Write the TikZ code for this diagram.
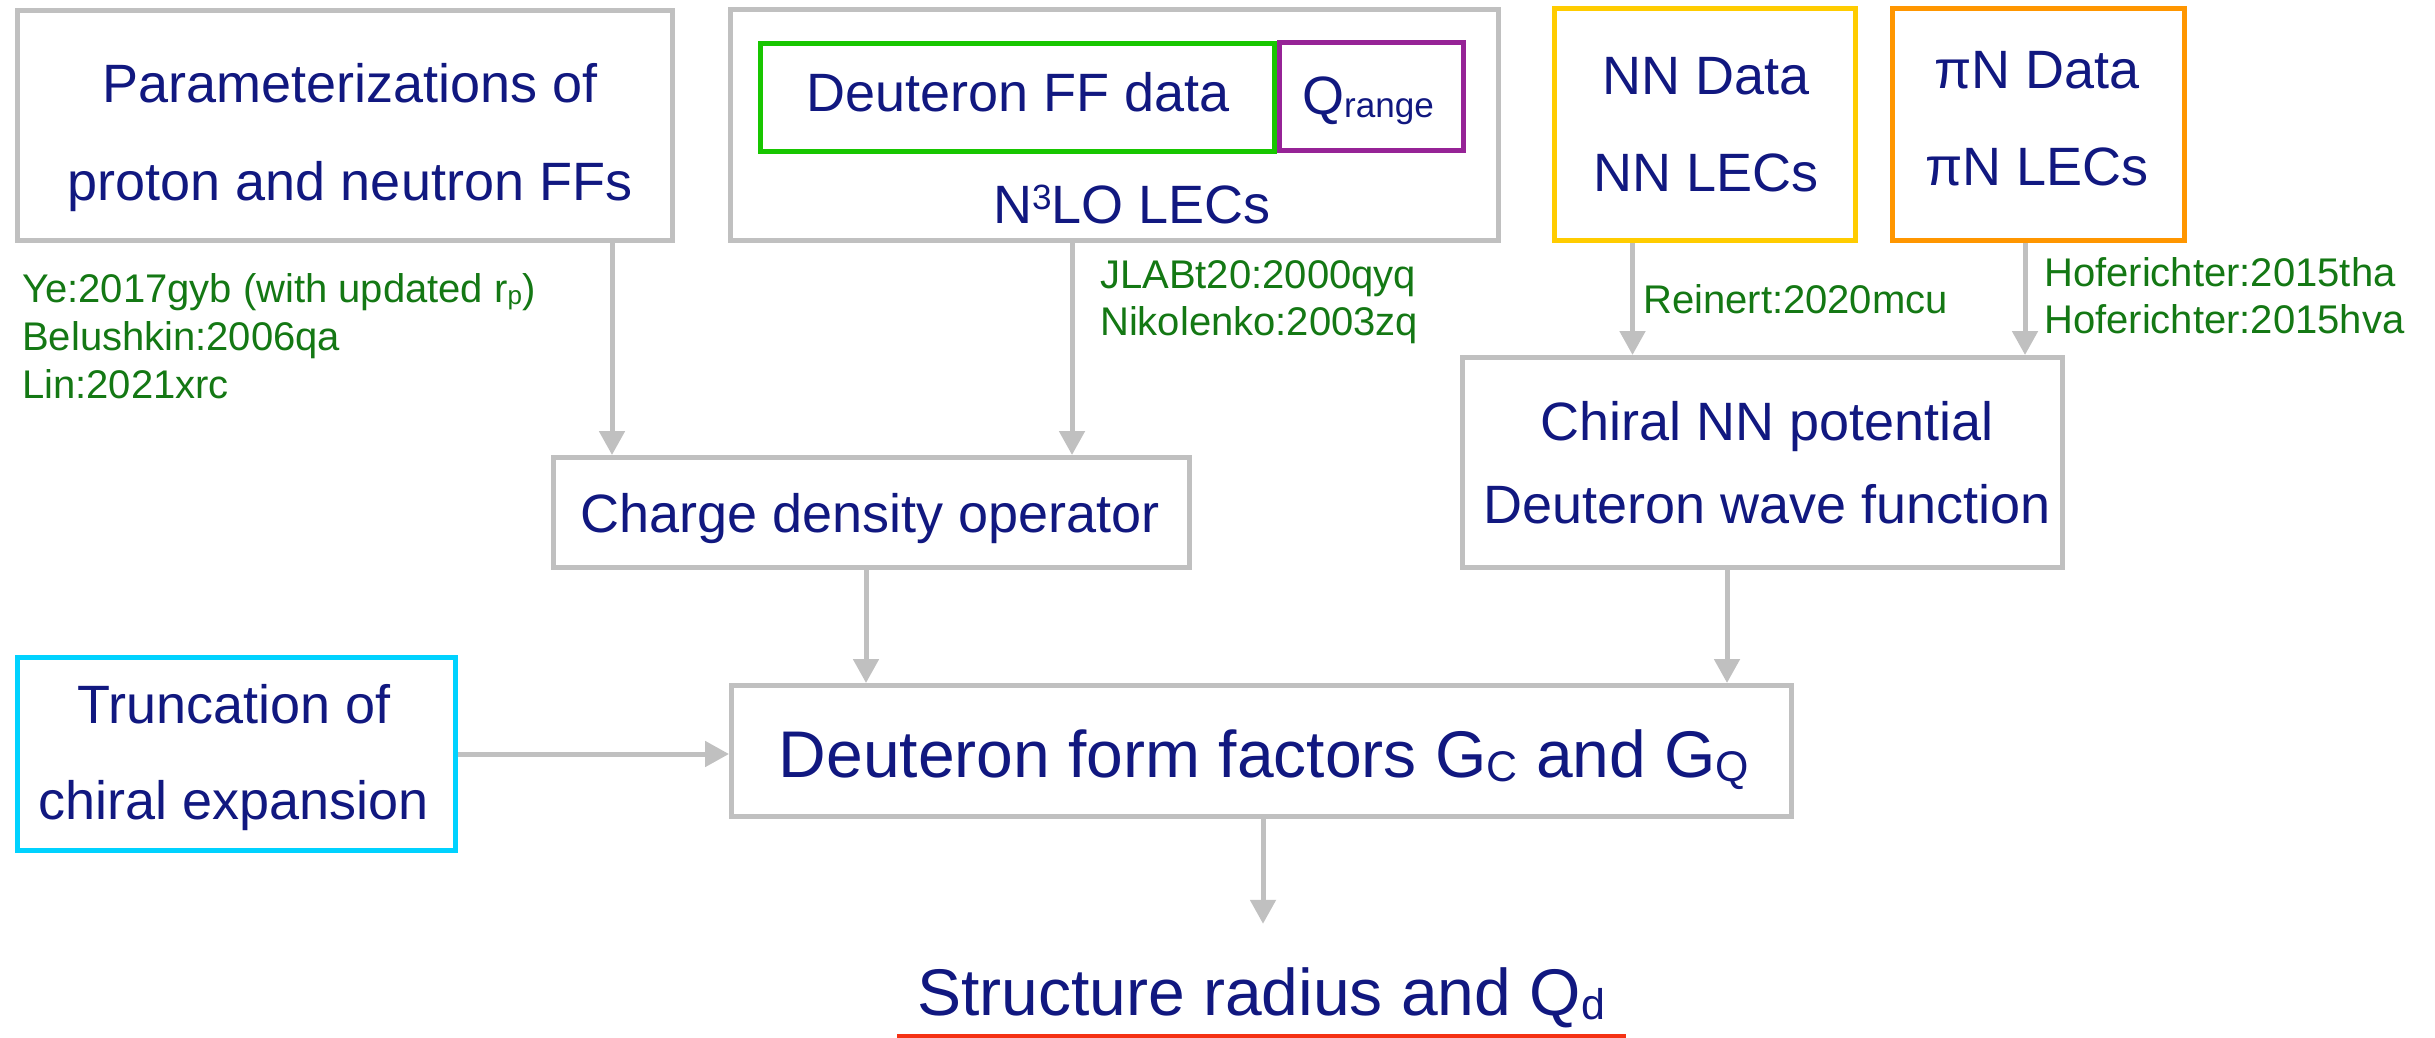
\documentclass[tikz,border=0pt]{standalone}
\usepackage{fontspec}
\setmainfont{Liberation Sans}
\usepackage{graphicx}
\usetikzlibrary{arrows.meta}
\definecolor{gline}{RGB}{192,192,192}
\definecolor{navy}{RGB}{17,24,128}
\definecolor{refgreen}{RGB}{20,120,20}
\definecolor{boxgreen}{RGB}{24,198,0}
\definecolor{boxpurple}{RGB}{150,35,150}
\definecolor{boxyellow}{RGB}{255,204,0}
\definecolor{boxorange}{RGB}{255,150,0}
\definecolor{boxcyan}{RGB}{0,210,255}
\definecolor{ulred}{RGB}{245,50,20}
\newcommand\lsub[1]{\raisebox{-0.07em}{\scalebox{0.65}{#1}}}
\newcommand\lsup[1]{\raisebox{0.25em}{\scalebox{0.65}{#1}}}
\begin{document}
\begin{tikzpicture}[x=1pt,y=-1pt,
  framebox/.style={draw=#1, line width=5pt, rectangle, inner sep=0pt},
  txt/.style={anchor=base, text=navy, inner sep=0pt, font=\fontsize{54}{60}\selectfont},
  bigtxt/.style={anchor=base, text=navy, inner sep=0pt, font=\fontsize{66}{72}\selectfont},
  ref/.style={anchor=base west, text=refgreen, inner sep=0pt, font=\fontsize{40}{44}\selectfont},
  arr/.style={draw=gline, line width=5pt, -{Triangle[length=24pt,width=25pt]}}
]
\useasboundingbox (0,0) rectangle (2435,1038);
\fill[white] (0,0) rectangle (2435,1038);

% boxes
\node[framebox=gline, minimum width=655pt, minimum height=229pt] (param) at (344.5,125.5) {};
\node[framebox=gline, minimum width=767.5pt, minimum height=230.5pt] (deut) at (1114.25,124.75) {};
\node[framebox=boxgreen, minimum width=514.5pt, minimum height=108pt] (ffdata) at (1017.25,97.5) {};
\node[framebox=boxpurple, minimum width=184pt, minimum height=108pt] (qrange) at (1371,96.5) {};
\node[framebox=boxyellow, minimum width=301pt, minimum height=232pt] (nn) at (1705,124.5) {};
\node[framebox=boxorange, minimum width=292pt, minimum height=232pt] (pin) at (2038.5,124.5) {};
\node[framebox=gline, minimum width=636pt, minimum height=109.5pt] (charge) at (871.5,512.25) {};
\node[framebox=gline, minimum width=600.5pt, minimum height=210pt] (chiral) at (1762.25,462.5) {};
\node[framebox=boxcyan, minimum width=438pt, minimum height=193pt] (trunc) at (236.5,754) {};
\node[framebox=gline, minimum width=1060pt, minimum height=130.5pt] (dff) at (1261.5,750.75) {};

% texts in boxes
\node[txt] (paramA) at (350,103) {Parameterizations of};
\node[txt] (paramB) at (350,200) {proton and neutron FFs};
\node[txt] (ffdataT) at (1018,112) {Deuteron FF data};
\node[txt] (qrangeT) at (1368,114) {Q\lsub{range}};
\node[txt] (lecT) at (1132,223) {N\lsup{3}LO LECs};
\node[txt] (nnA) at (1706,95) {NN Data};
\node[txt] (nnB) at (1706,191) {NN LECs};
\node[txt] (pinA) at (2037,89) {πN Data};
\node[txt] (pinB) at (2037,185) {πN LECs};
\node[txt] (chargeT) at (870,532) {Charge density operator};
\node[txt] (chiralA) at (1767,440) {Chiral NN potential};
\node[txt] (chiralB) at (1767,523) {Deuteron wave function};
\node[txt] (truncA) at (234,723) {Truncation of};
\node[txt] (truncB) at (234,819) {chiral expansion};
\node[bigtxt] (dffT) at (1264,777) {Deuteron form factors G\lsub{C} and G\lsub{Q}};
\node[bigtxt, text height=48pt, inner ysep=43pt] (struct) at (1261,1015) {Structure radius and Q\lsub{d}};

% references
\node[ref] (refA) at (22,302) {Ye:2017gyb (with updated r\lsub{p})};
\node[ref] (refB) at (22,350) {Belushkin:2006qa};
\node[ref] (refC) at (22,398) {Lin:2021xrc};
\node[ref] (refD) at (1100,288) {JLABt20:2000qyq};
\node[ref] (refE) at (1100,335) {Nikolenko:2003zq};
\node[ref] (refF) at (1643,313) {Reinert:2020mcu};
\node[ref] (refG) at (2044,286) {Hoferichter:2015tha};
\node[ref] (refH) at (2044,333) {Hoferichter:2015hva};

% connector columns
\coordinate (c1) at (612,0);
\coordinate (c2) at (1072,0);
\coordinate (c3) at (1632.5,0);
\coordinate (c4) at (2025,0);
\coordinate (c5) at (866,0);
\coordinate (c6) at (1727,0);
\coordinate (c7) at (1263,0);

\draw[arr] (c1 |- param.south) -- (c1 |- charge.north);
\draw[arr] (c2 |- deut.south) -- (c2 |- charge.north);
\draw[arr] (c3 |- nn.south) -- (c3 |- chiral.north);
\draw[arr] (c4 |- pin.south) -- (c4 |- chiral.north);
\draw[arr] (c5 |- charge.south) -- (c5 |- dff.north);
\draw[arr] (c6 |- chiral.south) -- (c6 |- dff.north);
\draw[arr] (trunc.east) -- (trunc.east -| dff.west);
\draw[arr] (c7 |- dff.south) -- (c7 |- struct.north);

% underline
\draw[ulred, line width=4pt] (897,1036) -- (1626,1036);
\end{tikzpicture}
\end{document}
